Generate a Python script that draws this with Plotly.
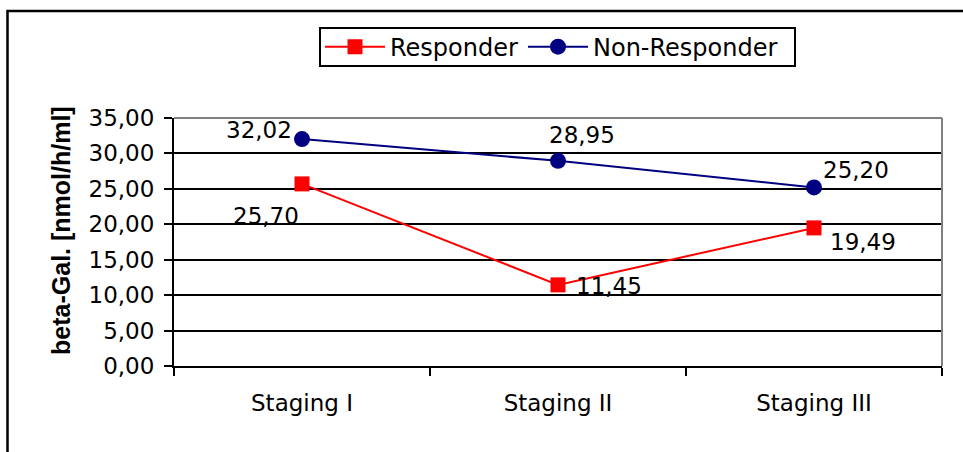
import plotly.graph_objects as go

# Data
stages = ["Staging I", "Staging II", "Staging III"]
responder = [25.70, 11.45, 19.49]
non_responder = [32.02, 28.95, 25.20]
y_ticks = [0, 5, 10, 15, 20, 25, 30, 35]

FONT = "DejaVu Sans"
TXT = 23

fig = go.Figure()
fig.add_trace(go.Scatter(
    x=stages, y=responder, name="Responder", mode="lines+markers",
    line=dict(color="#FF0000", width=2),
    marker=dict(symbol="square", size=15, color="#FF0000"),
))
fig.add_trace(go.Scatter(
    x=stages, y=non_responder, name="Non-Responder", mode="lines+markers",
    line=dict(color="#000080", width=2),
    marker=dict(symbol="circle", size=16, color="#000080"),
))


def fmt(v):
    return f"{v:.2f}".replace(".", ",")


# value labels, offset from each marker in screen pixels (dx right, dy down)
resp_offsets = [(-36, 32), (51, 1), (49, 14)]
nonresp_offsets = [(-43, -9), (24, -26), (42, -17)]
annotations = []
for series, offsets in ((responder, resp_offsets), (non_responder, nonresp_offsets)):
    for cat, val, (dx, dy) in zip(stages, series, offsets):
        annotations.append(dict(
            x=cat, y=val, xref="x", yref="y", text=fmt(val), showarrow=False,
            xshift=dx, yshift=-dy, xanchor="center", yanchor="middle",
            font=dict(family=FONT, size=TXT, color="black"),
        ))

# y-axis title
annotations.append(dict(
    x=-0.147, y=0.545, xref="paper", yref="paper", text="<b>beta-Gal. [nmol/h/ml]</b>",
    textangle=-90, showarrow=False, xanchor="center", yanchor="middle",
    font=dict(family="Liberation Sans", size=25, color="black"),
))

shapes = [
    # outer chart frame
    dict(type="rect", xref="paper", yref="paper", x0=-0.2168, x1=1.2, y0=-0.6, y1=1.4315,
         line=dict(color="black", width=2.5), fillcolor="rgba(0,0,0,0)", layer="below"),
    # legend frame
    dict(type="rect", xref="paper", yref="paper", x0=0.1901, x1=0.8086, y0=1.2097, y1=1.3629,
         line=dict(color="black", width=2), fillcolor="white", layer="below"),
    # grey top and right border of the plot area
    dict(type="line", xref="paper", yref="paper", x0=0, x1=1, y0=1, y1=1,
         line=dict(color="#808080", width=2), layer="above"),
    dict(type="line", xref="paper", yref="paper", x0=1, x1=1, y0=0, y1=1,
         line=dict(color="#808080", width=2), layer="above"),
]

fig.update_layout(
    width=963, height=452,
    margin=dict(l=174, r=21, t=118, b=86),
    paper_bgcolor="white", plot_bgcolor="white",
    separators=",.",
    font=dict(family=FONT, size=TXT, color="black"),
    showlegend=True,
    legend=dict(
        orientation="h", x=0.1901, y=1.286, xanchor="left", yanchor="middle",
        borderwidth=0, bgcolor="rgba(0,0,0,0)",
        font=dict(family=FONT, size=24, color="black"),
        itemwidth=60,
    ),
    annotations=annotations,
    shapes=shapes,
)
fig.update_xaxes(
    type="category", range=[-0.5, 2.5], tickson="boundaries",
    showline=True, linecolor="black", linewidth=2,
    ticks="outside", ticklen=8, tickwidth=2, tickcolor="black",
    showgrid=False, zeroline=False,
    tickfont=dict(family=FONT, size=TXT, color="black"),
    ticklabelstandoff=15,
)
fig.update_yaxes(
    range=[0, 35], tickvals=y_ticks, tickformat=".2f",
    showline=True, linecolor="black", linewidth=2,
    ticks="outside", ticklen=8, tickwidth=2, tickcolor="black",
    showgrid=True, gridcolor="black", gridwidth=2, zeroline=False,
    tickfont=dict(family=FONT, size=TXT, color="black"),
    ticklabelstandoff=5,
)

fig.write_html("out.html")
